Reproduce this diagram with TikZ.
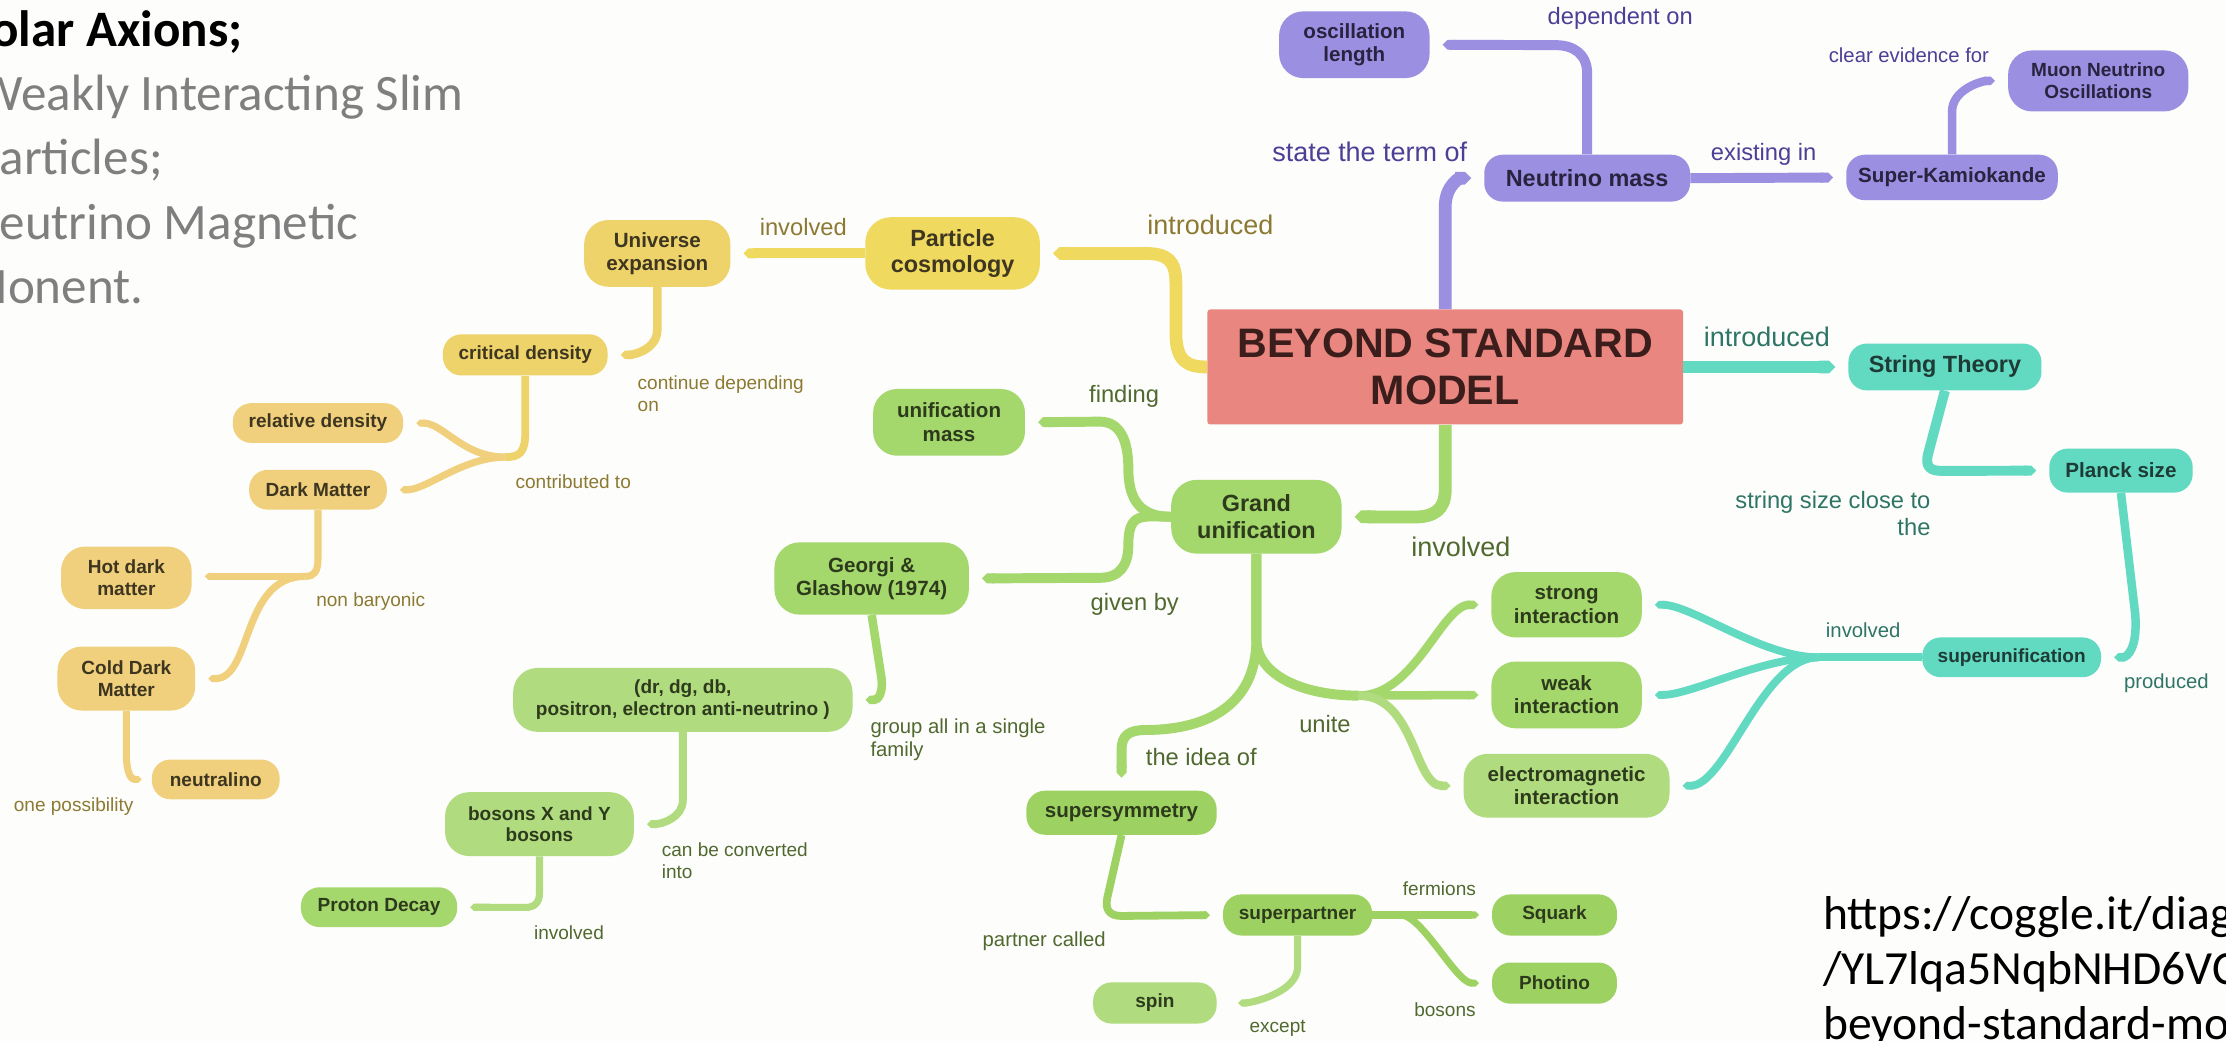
\documentclass[tikz,border=0pt]{standalone}
\usepackage{fontspec}
\setmainfont{Liberation Sans}
\newfontfamily\slidefont{Carlito}
\usetikzlibrary{arrows.meta}

\definecolor{paper}{HTML}{FDFDFC}
\definecolor{bsmred}{HTML}{E8867F}
\definecolor{bsmink}{HTML}{3B1D1B}
\definecolor{nupurple}{HTML}{9B8FE2}
\definecolor{nuink}{HTML}{29233F}
\definecolor{nulabel}{HTML}{4B3F96}
\definecolor{cosyellow}{HTML}{EFD95E}
\definecolor{cosgold}{HTML}{EDD36A}
\definecolor{cossand}{HTML}{F0D07C}
\definecolor{cosink}{HTML}{3E3620}
\definecolor{coslabel}{HTML}{8C7A32}
\definecolor{gutgreen}{HTML}{A4D76C}
\definecolor{gutlight}{HTML}{B0DC7F}
\definecolor{gutdeep}{HTML}{9DD262}
\definecolor{gutink}{HTML}{2E3A1C}
\definecolor{gutlabel}{HTML}{50692F}
\definecolor{strteal}{HTML}{62D9C1}
\definecolor{strink}{HTML}{1E3B35}
\definecolor{strlabel}{HTML}{2E7566}
\definecolor{slidegrey}{HTML}{7F7F7F}

\begin{document}
\begin{tikzpicture}[x=1pt,y=-1pt,
  topic/.style={rounded corners=13pt,inner sep=0pt,align=center},
  boxsize/.style 2 args={minimum width=#1pt,minimum height=#2pt},
  tier1/.style={topic,font=\fontsize{16.5}{18.8}\selectfont\bfseries},
  tier2/.style={topic,font=\fontsize{14.5}{16.5}\selectfont\bfseries},
  tier3/.style={topic,font=\fontsize{13.4}{15.3}\selectfont\bfseries},
  nunode/.style={fill=nupurple,text=nuink},
  cosnode/.style={fill=cossand,text=cosink},
  gutnode/.style={fill=gutgreen,text=gutink},
  strnode/.style={fill=strteal,text=strink},
  mapline/.style={line width=#1,shorten >=9pt,-{Triangle Cap[]}},
  joinline/.style={shorten >=0pt,-},
  nulink/.style={draw=nupurple,mapline=#1},
  coslink/.style={draw=cosgold,mapline=#1},
  gutlink/.style={draw=gutgreen,mapline=#1},
  strlink/.style={draw=strteal,mapline=#1},
  lab1/.style={inner sep=0pt,font=\fontsize{19}{21.5}\selectfont},
  lab2/.style={inner sep=0pt,font=\fontsize{16.7}{19}\selectfont},
  lab3/.style={inner sep=0pt,font=\fontsize{14.3}{16.3}\selectfont},
  lab4/.style={inner sep=0pt,font=\fontsize{13.4}{15.5}\selectfont},
  slide/.style={inner sep=0pt,anchor=base west,font=\slidefont\fontsize{36}{44}\selectfont},
  urltext/.style={inner sep=0pt,anchor=base west,font=\slidefont\fontsize{33.5}{39}\selectfont}]
\useasboundingbox (0,0) rectangle (1568,733);
\fill[paper] (0,0) rectangle (1568,733);
\clip (0,0) rectangle (1568,733);

% Slide text
\node[slide,font=\slidefont\fontsize{36}{44}\selectfont\bfseries] (axions) at (-6.4,33) {olar Axions;};
\node[slide,text=slidegrey] (wisp) at (-16,77.5) {Weakly Interacting Slim};
\node[slide,text=slidegrey] (wispend) at (-0.5,123) {articles;};
\node[slide,text=slidegrey] (magnetic) at (-0.5,168.5) {eutrino Magnetic};
\node[slide,text=slidegrey] (moment) at (-25.3,213.5) {Monent.};
\node[urltext] (url1) at (1284,655) {https://coggle.it/diag};
\node[urltext] (url2) at (1284,693.5) {/YL7lqa5NqbNHD6VC};
\node[urltext] (url3) at (1284,732) {beyond-standard-mo};

% Central topic
\node[fill=bsmred,text=bsmink,minimum width=335pt,minimum height=81pt,rounded corners=2pt,align=center,font=\fontsize{29}{33.5}\selectfont\bfseries] (bsm) at (1018,258.5) {BEYOND STANDARD\\MODEL};

% Neutrino branch
\node[tier1,nunode,boxsize={145}{33}] (nmass) at (1118,125.5) {Neutrino mass};
\node[tier2,nunode,boxsize={106}{47},rounded corners=17pt] (osc) at (954,31.5) {oscillation\\length};
\node[tier2,nunode,boxsize={149}{32}] (superk) at (1375,125) {Super-Kamiokande};
\node[tier3,nunode,boxsize={127}{43},rounded corners=17pt] (muon) at (1478,57) {Muon Neutrino\\Oscillations};
\node[lab2,text=nulabel,anchor=west] (ldepend) at (1090,13) {dependent on};
\node[lab3,text=nulabel,anchor=west] (lclear) at (1288,39) {clear evidence for};
\node[lab1,text=nulabel,anchor=west] (lstate) at (896,107) {state the term of};
\node[lab2,text=nulabel,anchor=west] (lexist) at (1205,109) {existing in};
\draw[nulink=9pt] (bsm.north) -- ++(0,-72) .. controls +(0,-16) and +(-16,0) .. (nmass.west);
\draw[nulink=7pt] (nmass.north) -- ++(0,-57) .. controls +(0,-14) and +(12,0) .. ++(-22,-20) -- (osc.east);
\draw[nulink=7pt] (nmass.east) -- (superk.west);
\draw[nulink=6pt] (superk.north) -- ++(0,-30) .. controls +(0,-16) and +(-18,0) .. (muon.west);

% Cosmology branch
\node[tier1,cosnode,fill=cosyellow,boxsize={123}{51},rounded corners=18pt] (pcos) at (671,178.5) {Particle\\cosmology};
\node[tier2,cosnode,fill=cosgold,boxsize={103}{47},rounded corners=17pt] (uexp) at (463,178.5) {Universe\\expansion};
\node[tier3,cosnode,fill=cosgold,boxsize={116}{29}] (crit) at (370,250) {critical density};
\node[tier3,cosnode,boxsize={120}{28}] (reld) at (224,298) {relative density};
\node[tier3,cosnode,boxsize={97}{28}] (dm) at (224,345) {Dark Matter};
\node[tier3,cosnode,boxsize={92}{44},rounded corners=17pt] (hot) at (89,407) {Hot dark\\matter};
\node[tier3,cosnode,boxsize={97}{45},rounded corners=17pt] (cold) at (89,478) {Cold Dark\\Matter};
\node[tier3,cosnode,boxsize={90}{28}] (neut) at (152,549) {neutralino};
\node[lab1,text=coslabel,anchor=west] (lintro) at (808,158.5) {introduced};
\node[lab2,text=coslabel,anchor=west] (linvolved) at (535,160) {involved};
\node[lab4,text=coslabel,anchor=west,align=left] (lcontinue) at (449,277) {continue depending\\on};
\node[lab4,text=coslabel,anchor=west] (lcontrib) at (363,339.5) {contributed to};
\node[lab4,text=coslabel,anchor=west] (lnonbar) at (222.6,424) {non baryonic};
\node[lab4,text=coslabel,anchor=west] (lonepos) at (9.6,568) {one possibility};
\draw[coslink=9pt,draw=cosyellow] (bsm.west) .. controls +(-14,0) and +(0,20) .. ++(-22,-24) -- ++(0,-35) .. controls +(0,-16) and +(16,0) .. ++(-22,-21) -- (pcos.east);
\draw[coslink=7pt,draw=cosyellow] (pcos.west) -- (uexp.east);
\draw[coslink=6pt] (uexp.south) -- ++(0,30) .. controls +(0,14) and +(18,0) .. (crit.east);
\coordinate (jcrit) at (356,322);
\draw[coslink=5.5pt,joinline] (crit.south) -- ++(0,40) .. controls +(0,14) and +(10,0) .. (jcrit);
\draw[coslink=5pt,draw=cossand] (jcrit) .. controls +(-30,0) and +(28,0) .. (reld.east);
\draw[coslink=5pt,draw=cossand] (jcrit) .. controls +(-30,0) and +(28,0) .. (dm.east);
\coordinate (jdm) at (215,406);
\draw[coslink=5pt,draw=cossand,joinline] (dm.south) -- ++(0,34) .. controls +(0,10) and +(6,0) .. (jdm);
\draw[coslink=5pt,draw=cossand] (jdm) -- (hot.east |- jdm);
\draw[coslink=5pt,draw=cossand] (jdm) .. controls +(-45,0) and +(40,0) .. (cold.east);
\draw[coslink=5pt,draw=cossand,shorten >=7pt] (cold.south) -- ++(0,30) .. controls +(0,15) and +(-14,0) .. (neut.west);

% Grand unification branch
\node[tier1,gutnode,boxsize={120}{52},rounded corners=18pt] (gu) at (885,364) {Grand\\unification};
\node[tier2,gutnode,boxsize={107}{47},rounded corners=17pt] (umass) at (668.5,297.5) {unification\\mass};
\node[tier2,gutnode,boxsize={137}{51},rounded corners=18pt] (georgi) at (614,407.5) {Georgi \&\\Glashow (1974)};
\node[tier3,gutnode,fill=gutlight,boxsize={239}{45},rounded corners=17pt] (quarks) at (481,493) {(dr, dg, db,\\positron, electron anti-neutrino )};
\node[tier3,gutnode,fill=gutlight,boxsize={133}{45},rounded corners=17pt] (bosons) at (380,580.5) {bosons X and Y\\bosons};
\node[tier3,gutnode,boxsize={110}{28}] (proton) at (267,639) {Proton Decay};
\node[tier2,gutnode,fill=gutdeep,boxsize={134}{31}] (susy) at (790,572.5) {supersymmetry};
\node[tier3,gutnode,fill=gutdeep,boxsize={105}{29}] (spart) at (914,644.5) {superpartner};
\node[tier3,gutnode,fill=gutlight,boxsize={87}{29}] (spin) at (813.5,706.5) {spin};
\node[tier3,gutnode,fill=gutdeep,boxsize={88}{29}] (squark) at (1095,644.5) {Squark};
\node[tier3,gutnode,fill=gutdeep,boxsize={88}{29}] (photino) at (1095,692.5) {Photino};
\node[tier2,gutnode,boxsize={106}{46},rounded corners=17pt] (strong) at (1103.5,426) {strong\\interaction};
\node[tier2,gutnode,boxsize={106}{47},rounded corners=17pt] (weak) at (1103.5,489.5) {weak\\interaction};
\node[tier2,gutnode,fill=gutlight,boxsize={145}{45},rounded corners=17pt] (em) at (1103.5,553.5) {electromagnetic\\interaction};
\node[lab2,text=gutlabel,anchor=west] (lfinding) at (767,279) {finding};
\node[lab2,text=gutlabel,anchor=west] (lgiven) at (768,426) {given by};
\node[lab1,text=gutlabel,anchor=west] (linv) at (994,385) {involved};
\node[lab3,text=gutlabel,anchor=west,align=left] (lgroup) at (613,521) {group all in a single\\family};
\node[lab4,text=gutlabel,anchor=west,align=left] (lconv) at (466,606.5) {can be converted\\into};
\node[lab4,text=gutlabel,anchor=west] (lprot) at (376,657) {involved};
\node[lab2,text=gutlabel,anchor=west] (lidea) at (807,533) {the idea of};
\node[lab2,text=gutlabel,anchor=west] (lunite) at (915,510) {unite};
\node[lab3,text=gutlabel,anchor=west] (lpartner) at (692,663) {partner called};
\node[lab4,text=gutlabel,anchor=west] (lfermions) at (988,626) {fermions};
\node[lab4,text=gutlabel,anchor=west] (lbosons) at (996,711) {bosons};
\node[lab4,text=gutlabel,anchor=west] (lexcept) at (880,724) {except};
\draw[gutlink=9pt] (bsm.south) -- ++(0,46) .. controls +(0,14) and +(14,0) .. ++(-22,19) -- (gu.east);
\draw[gutlink=7pt] (gu.west) .. controls +(-20,0) and +(0,24) .. ++(-30,-34) .. controls +(0,-20) and +(14,0) .. ++(-20,-33) -- (umass.east);
\draw[gutlink=7pt] (gu.west) .. controls +(-20,0) and +(0,-24) .. ++(-30,20) .. controls +(0,14) and +(14,0) .. ++(-20,23) -- (georgi.east);
\draw[gutlink=6pt] (georgi.south) -- ++(7,45) .. controls +(1,10) and +(18,0) .. (quarks.east);
\draw[gutlink=5.5pt,draw=gutlight] (quarks.south) -- ++(0,48) .. controls +(0,12) and +(20,0) .. (bosons.east);
\draw[gutlink=5pt,draw=gutlight] (bosons.south) -- ++(0,26) .. controls +(0,7) and +(6,0) .. ++(-10,10) -- (proton.east);
\draw[gutlink=7pt] (gu.south) -- ++(0,60) .. controls +(0,45) and +(45,0) .. ++(-78,64) .. controls +(-12,0) and +(0,-10) .. ++(-17,14) -- (susy.north);
\coordinate (jforce) at (957,490);
\draw[gutlink=7pt,joinline] (gu.south) -- ++(0,60) .. controls +(0,25) and +(-40,0) .. (jforce);
\draw[gutlink=6pt] (jforce) .. controls +(40,0) and +(-35,0) .. (strong.west);
\draw[gutlink=6pt] (jforce) -- (weak.west);
\draw[gutlink=6pt,draw=gutlight] (jforce) .. controls +(40,0) and +(-35,0) .. (em.west);
\draw[gutlink=5.5pt,draw=gutdeep] (susy.south) -- ++(-10,44) .. controls +(-2,9) and +(-8,0) .. ++(10,13) -- (spart.west);
\draw[gutlink=5pt,draw=gutdeep] (spart.east) -- (squark.west);
\draw[gutlink=5pt,draw=gutdeep] (spart.east) -- ++(20,0) .. controls +(15,0) and +(-25,0) .. (photino.west);
\draw[gutlink=5pt,draw=gutlight,shorten >=15pt] (spart.south) -- ++(0,22) .. controls +(0,18) and +(24,0) .. (spin.east);

% String theory branch
\node[tier1,strnode,boxsize={136}{33}] (string) at (1370,258.5) {String Theory};
\node[tier2,strnode,boxsize={101}{31}] (planck) at (1494,331.5) {Planck size};
\node[tier3,strnode,boxsize={126}{28}] (superu) at (1417,463) {superunification};
\node[lab1,text=strlabel,anchor=west] (lintro2) at (1200,237.5) {introduced};
\node[lab2,text=strlabel,anchor=east,align=right] (lclose) at (1360,361.5) {string size close to\\the};
\node[lab3,text=strlabel,anchor=west] (linv2) at (1286,444) {involved};
\node[lab3,text=strlabel,anchor=west] (lproduced) at (1496,481) {produced};
\draw[strlink=9pt] (bsm.east) -- (string.west);
\draw[strlink=7pt] (string.south) -- ++(-12,45) .. controls +(-2,9) and +(-8,0) .. ++(10,11.5) -- (planck.west);
\draw[strlink=6pt] (planck.south) -- ++(10,85) .. controls +(2,25) and +(18,0) .. (superu.east);
\coordinate (jsuper) at (1281,463);
\draw[strlink=5.5pt,joinline] (superu.west) -- (jsuper);
\draw[strlink=5.5pt] (jsuper) .. controls +(-40,0) and +(35,0) .. (strong.east);
\draw[strlink=5.5pt] (jsuper) .. controls +(-40,0) and +(35,0) .. (weak.east);
\draw[strlink=5.5pt] (jsuper) .. controls +(-40,0) and +(40,0) .. (em.east);
\end{tikzpicture}
\end{document}
